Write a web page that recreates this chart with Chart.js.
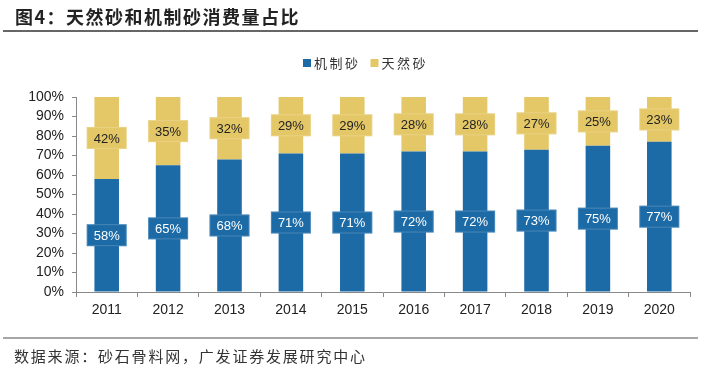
<!DOCTYPE html>
<html><head><meta charset="utf-8">
<script src="https://cdn.jsdelivr.net/npm/chart.js@4"></script>
<style>html,body{margin:0;padding:0;background:#fff;}#wrap{width:705px;height:370px;position:relative;}</style>
</head><body><div id="wrap"><canvas id="c" width="705" height="370"></canvas></div>
<script>
const titleText = "图4：天然砂和机制砂消费量占比";
const sourceText = "数据来源：砂石骨料网，广发证券发展研究中心";
const years = ["2011","2012","2013","2014","2015","2016","2017","2018","2019","2020"];
const seriesNames = ["机制砂","天然砂"];
const machineSand = [58,65,68,71,71,72,72,73,75,77];
const naturalSand = [42,35,32,29,29,28,28,27,25,23];
const yTicks = [0,10,20,30,40,50,60,70,80,90,100];

const BLUE = "#1C6AA6", YELLOW = "#E4C766";
const CJK = '"Noto Sans CJK SC", sans-serif';
const LAT = '"Liberation Sans", Arial, sans-serif';

const decor = {
  id: "decor",
  afterDraw(chart) {
    const ctx = chart.ctx;
    ctx.save();
    ctx.textBaseline = "middle";
    ctx.textAlign = "left";
    // title
    ctx.fillStyle = "#222";
    ctx.font = "bold 18px " + CJK;
    ctx.letterSpacing = "1.5px";
    ctx.fillText(titleText, 15, 17);
    ctx.strokeStyle = "#333"; ctx.lineWidth = 1.5;
    ctx.beginPath(); ctx.moveTo(3, 31); ctx.lineTo(698, 31); ctx.stroke();
    // footer
    ctx.strokeStyle = "#888"; ctx.lineWidth = 1.5;
    ctx.beginPath(); ctx.moveTo(3, 338); ctx.lineTo(698, 338); ctx.stroke();
    ctx.fillStyle = "#333"; ctx.font = "15px " + CJK;
    ctx.letterSpacing = "1.8px";
    ctx.fillText(sourceText, 14, 356);
    // legend
    const items = chart.data.datasets;
    let x = 303;
    ctx.font = "13px " + CJK;
    ctx.letterSpacing = "2.5px";
    items.forEach((ds) => {
      ctx.fillStyle = ds.backgroundColor;
      ctx.fillRect(x, 59, 8, 8);
      ctx.fillStyle = "#333";
      ctx.fillText(ds.label, x + 11, 63);
      x += 11 + ctx.measureText(ds.label).width + 10;
    });
    ctx.letterSpacing = "0px";
    // data labels
    ctx.font = "13px " + LAT;
    ctx.textAlign = "center";
    items.forEach((ds, di) => {
      const meta = chart.getDatasetMeta(di);
      meta.data.forEach((bar, i) => {
        const cy = (bar.y + bar.base) / 2;
        const w = 40, h = 22;
        ctx.fillStyle = ds.backgroundColor;
        ctx.fillRect(bar.x - w / 2, cy - h / 2, w, h);
        ctx.strokeStyle = "rgba(255,255,255,0.2)"; ctx.lineWidth = 1;
        ctx.strokeRect(bar.x - w / 2 + 0.5, cy - h / 2 + 0.5, w - 1, h - 1);
        ctx.fillStyle = di === 0 ? "#fff" : "#222";
        ctx.fillText(ds.data[i] + "%", bar.x, cy + 1);
      });
    });
    ctx.restore();
  }
};

new Chart(document.getElementById("c"), {
  type: "bar",
  data: {
    labels: years,
    datasets: [
      { label: seriesNames[0], data: machineSand, backgroundColor: BLUE, borderWidth: 0 },
      { label: seriesNames[1], data: naturalSand, backgroundColor: YELLOW, borderWidth: 0 }
    ]
  },
  options: {
    responsive: false,
    animation: false,
    devicePixelRatio: 1,
    layout: { padding: { left: 0, top: 97, right: 15, bottom: 0 } },
    datasets: { bar: { categoryPercentage: 1, barPercentage: 0.4 } },
    plugins: { legend: { display: false }, tooltip: { enabled: false }, title: { display: false } },
    scales: {
      x: {
        stacked: true,
        afterFit(s) { s.height = 78; },
        grid: { offset: true, drawOnChartArea: false, tickLength: 5, color: "#888" },
        border: { color: "#888", width: 1 },
        ticks: { color: "#222", font: { family: LAT, size: 14 }, padding: 5, autoSkip: false, maxRotation: 0 }
      },
      y: {
        stacked: true,
        min: 0, max: 100,
        afterFit(s) { s.width = 76; },
        afterBuildTicks(s) { s.ticks = yTicks.map(v => ({ value: v })); },
        grid: { drawOnChartArea: false, tickLength: 4, color: "#888" },
        border: { color: "#888", width: 1 },
        ticks: { color: "#222", font: { family: LAT, size: 14 }, padding: 8, autoSkip: false, callback: v => v + "%" }
      }
    }
  },
  plugins: [decor]
});
</script></body></html>
